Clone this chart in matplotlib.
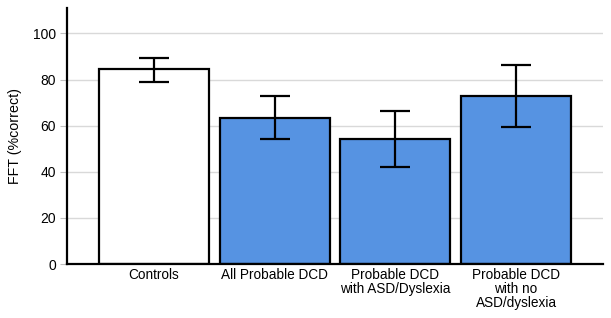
import matplotlib.pyplot as plt
import numpy as np

plt.rcParams['font.family'] = ['Liberation Sans', 'DejaVu Sans']

groups = ['Controls', 'All Probable DCD', 'Probable DCD\nwith ASD/Dyslexia', 'Probable DCD\nwith no\nASD/dyslexia']
means = [84.7, 63.5, 54.2, 72.9]
err_low = [79.1, 54.2, 41.9, 59.3]
err_high = [89.4, 72.7, 66.5, 86.5]
colors = ['white', '#5693e2', '#5693e2', '#5693e2']

fig = plt.figure(figsize=(6.11, 3.18), dpi=100)
ax = fig.add_axes([0.1097, 0.1698, 0.8773, 0.805])

x = np.arange(len(groups))
yerr = [np.array(means) - np.array(err_low), np.array(err_high) - np.array(means)]
ax.bar(x, means, width=0.91, color=colors, edgecolor='black', linewidth=1.6, zorder=2)
ax.errorbar(x, means, yerr=yerr, fmt='none', ecolor='black', elinewidth=1.6,
            capsize=11, capthick=1.6, zorder=3)

ax.set_xlim(-0.72, 3.72)
ax.set_ylim(0, 111)
ax.set_yticks([0, 20, 40, 60, 80, 100])
ax.yaxis.grid(True, color='#d9d9d9', linewidth=1, zorder=0)
ax.set_axisbelow(True)
ax.set_xticks(x)
ax.set_xticklabels(groups, fontsize=9.8, linespacing=0.98)
ax.tick_params(axis='x', length=0, pad=3)
ax.tick_params(axis='y', length=5, color='#bfbfbf', labelsize=10, pad=3)
ax.set_ylabel('FFT (%correct)', fontsize=10.3, labelpad=8)

for s in ['top', 'right']:
    ax.spines[s].set_visible(False)
ax.spines['left'].set_linewidth(1.6)
ax.spines['bottom'].set_linewidth(1.6)

fig.savefig('out.png', dpi=100)
